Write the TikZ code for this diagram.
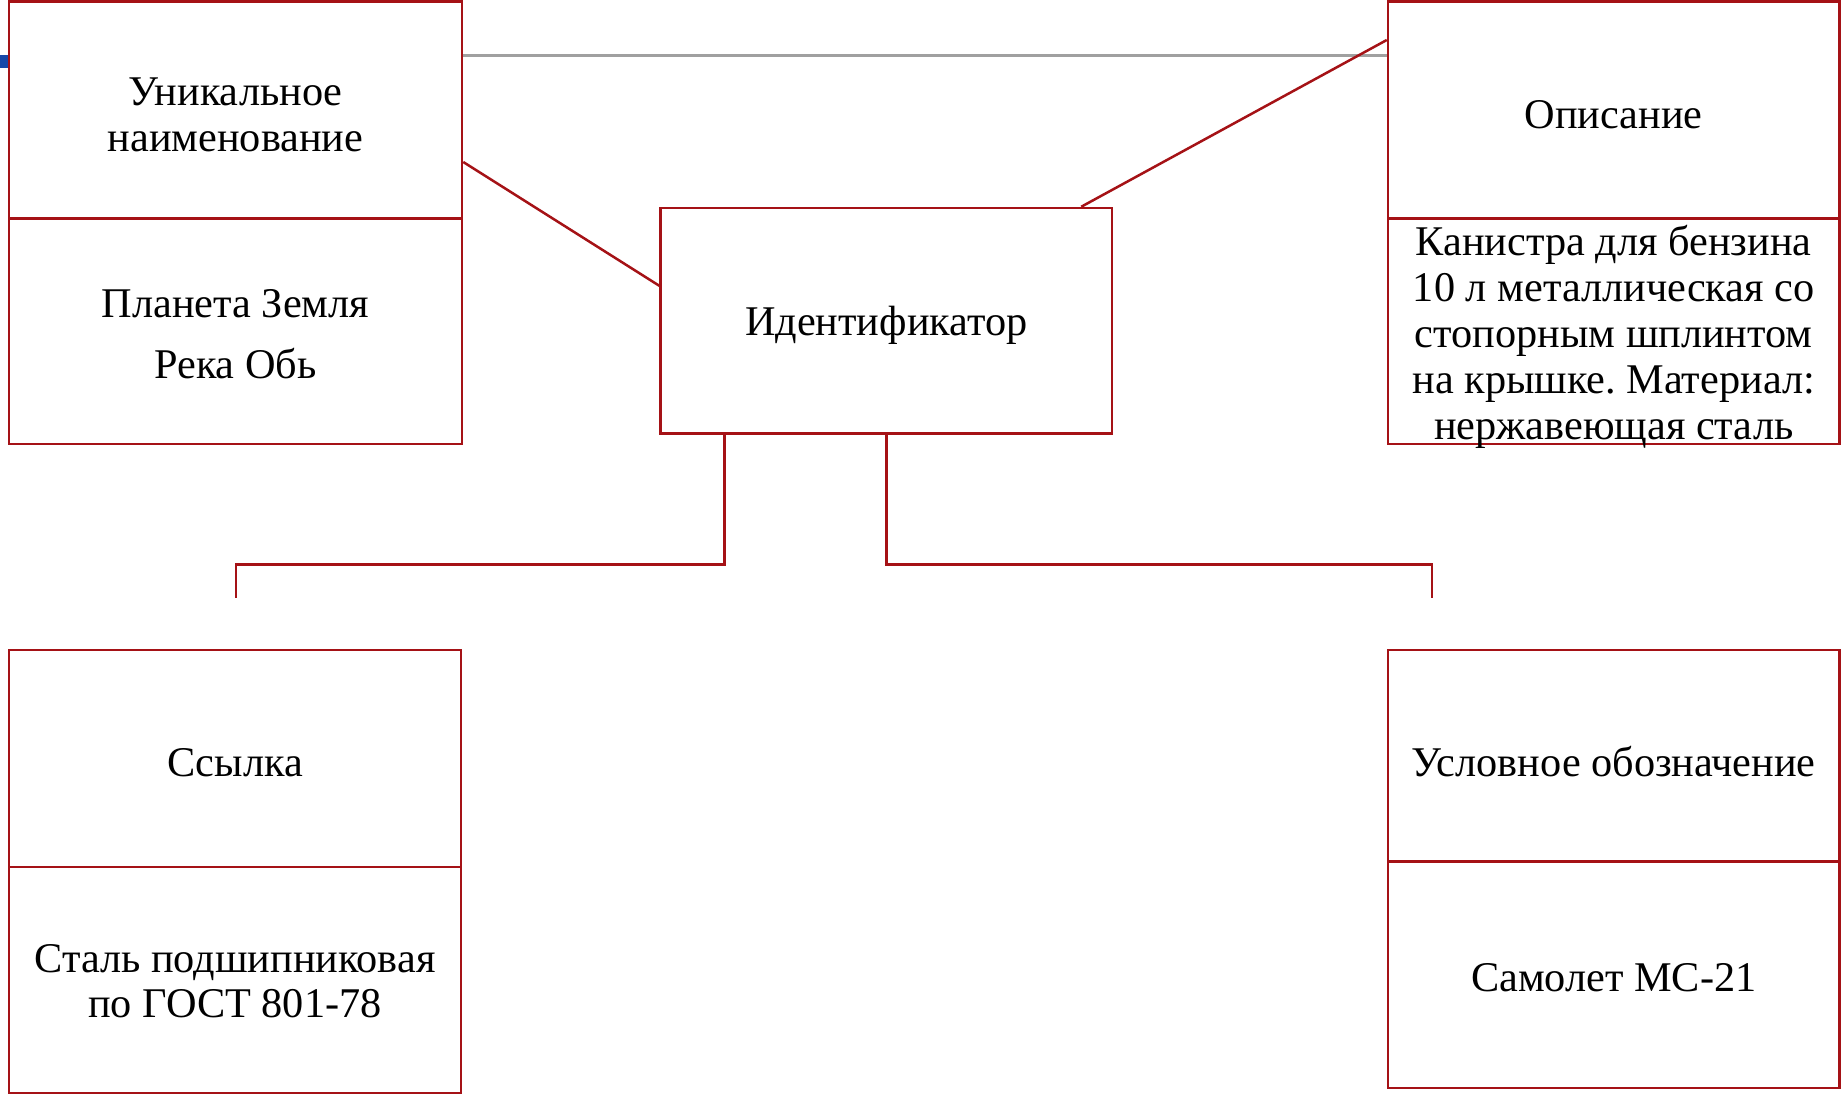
\documentclass[tikz,border=0pt]{standalone}
\usepackage{fontspec}
\setmainfont{Liberation Serif}
\frenchspacing
\definecolor{boxred}{RGB}{165,18,22}
\definecolor{linegray}{RGB}{160,160,160}
\definecolor{markblue}{RGB}{22,72,168}
\newcommand\lbl[2][0pt]{\raisebox{-#1}[\dimexpr\height-4pt\relax][\dimexpr\depth-4pt\relax]{\begin{tabular}{@{}c@{}}#2\end{tabular}}}
\begin{document}
\begin{tikzpicture}[x=1pt,y=-1pt,
  cell/.style={draw=boxred,line width=2.5pt,inner sep=0pt,align=center,
    font=\fontsize{42.3}{46}\selectfont},
  conn/.style={draw=boxred,line width=2.5pt},
  grayconn/.style={draw=linegray,line width=2.7pt}]
\useasboundingbox (0,0) rectangle (1843,1095);
% boxes
\node[cell,minimum width=453pt,minimum height=217pt] (ul1) at (235.5,110) {\lbl[9.5pt]{Уникальное\\наименование}};
\node[cell,minimum width=453pt,minimum height=225.5pt] (ul2) at (235.5,331.25) {\lbl[7.3pt]{Планета Земля\\[15pt]Река Обь}};
\node[cell,minimum width=451.5pt,minimum height=225.5pt] (id) at (886.25,320.75) {\lbl[5.2pt]{Идентификатор}};
\node[cell,minimum width=451.5pt,minimum height=217pt] (op1) at (1613.75,110) {\lbl[9.7pt]{Описание}};
\node[cell,minimum width=451.5pt,minimum height=225.5pt] (op2) at (1613.75,331.25) {\lbl[6.7pt]{Канистра для бензина\\10 л металлическая со\\стопорным шплинтом\\на крышке. Материал:\\нержавеющая сталь}};
\node[cell,minimum width=452pt,minimum height=217pt] (ref1) at (235,758.5) {\lbl[8.5pt]{Ссылка}};
\node[cell,minimum width=452pt,minimum height=226pt] (ref2) at (235,980) {\lbl[5.8pt]{Сталь подшипниковая\\[-1.3pt]по ГОСТ 801-78}};
\node[cell,minimum width=451.5pt,minimum height=211.5pt] (sym1) at (1613.75,755.75) {\lbl[12pt]{Условное обозначение}};
\node[cell,minimum width=451.5pt,minimum height=226.5pt] (sym2) at (1613.75,974.75) {\lbl[7.3pt]{Самолет МС-21}};
% blue mark
\fill[markblue] (0,54.5) rectangle (8,67.5);
% connectors
\draw[grayconn] ([yshift=54.5pt]ul1.east) -- ([yshift=54.5pt]op1.west);
\draw[conn] ([yshift=-52pt]ul1.east) -- ([yshift=35pt]id.west);
\draw[conn] ([xshift=195pt]id.north) -- ([yshift=70pt]op1.west);
\coordinate (lend) at (236,598);
\coordinate (rend) at (1432,598);
\draw[conn] ([xshift=-162pt]id.south) -- ++(0,-129.5pt) -| (lend);
\draw[conn] (id.south) -- ++(0,-129.5pt) -| (rend);
\end{tikzpicture}
\end{document}
